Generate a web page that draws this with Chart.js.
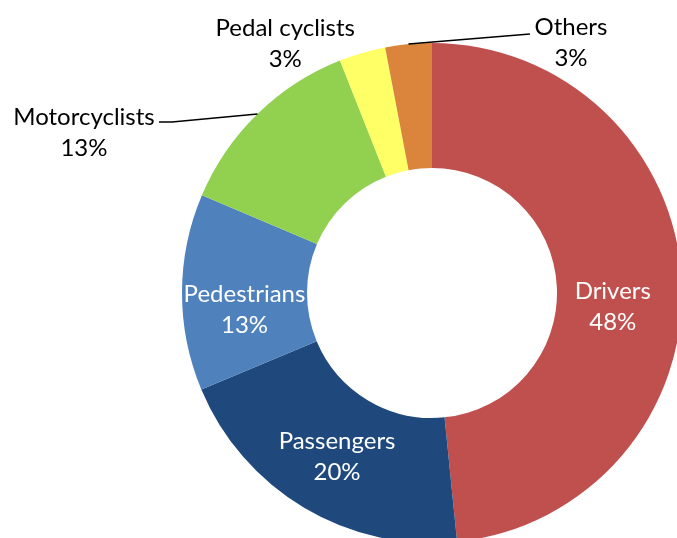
<!DOCTYPE html>
<html>
<head>
<meta charset="utf-8">
<script src="https://cdn.jsdelivr.net/npm/chart.js@4.4.1/dist/chart.umd.min.js"></script>
<style>
  html, body { margin: 0; padding: 0; background: #fff; overflow: hidden; }
  #wrap { position: absolute; left: 0; top: 0; width: 677px; height: 538px; }
</style>
</head>
<body>
<div id="wrap"><canvas id="myChart"></canvas></div>
<script>
// road deaths by type of road user (share, %)
const categories = ['Drivers', 'Passengers', 'Pedestrians', 'Motorcyclists', 'Pedal cyclists', 'Others'];
const shares = [48.4, 20.3, 12.7, 12.6, 3.0, 3.0];
const sliceColours = ['#C0504D', '#1F497D', '#4F81BD', '#92D050', '#FFFF66', '#DA843C'];

// where each label goes, relative to its slice
const labelSpots = [
  { inside: true, dx: -6.5, dy: 22.5 },
  { inside: true, dx: 1, dy: 1.5 },
  { inside: true, dx: 0, dy: 17 },
  { inside: false, dx: -173.5, dy: 18, line: [[-85.5, 8], [-98.5, 8]] },
  { inside: false, dx: -77, dy: -10 },
  { inside: false, dx: 162.5, dy: -2, line: [[121.5, -10]] }
];

const FONT = '24px Lato, "Open Sans", sans-serif';
const LINE_GAP = 31;

const sliceLabels = {
  id: 'sliceLabels',
  afterDatasetsDraw(chart) {
    const ctx = chart.ctx;
    const meta = chart.getDatasetMeta(0);
    const data = chart.data.datasets[0].data;
    const total = data.reduce((a, b) => a + b, 0);
    ctx.save();
    ctx.font = FONT;
    ctx.textAlign = 'center';
    ctx.textBaseline = 'alphabetic';
    meta.data.forEach((arc, i) => {
      const spot = labelSpots[i];
      const p = arc.getProps(['x', 'y', 'startAngle', 'endAngle', 'outerRadius', 'innerRadius'], true);
      const mid = (p.startAngle + p.endAngle) / 2;
      let ax, ay;
      if (spot.inside) {
        const r = (p.innerRadius + p.outerRadius) / 2;
        ax = p.x + Math.cos(mid) * r;
        ay = p.y + Math.sin(mid) * r;
      } else {
        ax = p.x + Math.cos(mid) * p.outerRadius;
        ay = p.y + Math.sin(mid) * p.outerRadius;
      }
      if (spot.line) {
        ctx.beginPath();
        ctx.moveTo(ax, ay);
        spot.line.forEach(pt => ctx.lineTo(ax + pt[0], ay + pt[1]));
        ctx.strokeStyle = '#000';
        ctx.lineWidth = 1.5;
        ctx.stroke();
      }
      const cx = ax + spot.dx;
      const cy = ay + spot.dy;
      const pct = Math.round(data[i] / total * 100) + '%';
      ctx.fillStyle = spot.inside ? '#fff' : '#000';
      ctx.fillText(chart.data.labels[i], cx, cy - LINE_GAP / 2 + 8.5);
      ctx.fillText(pct, cx, cy + LINE_GAP / 2 + 8.5);
    });
    ctx.restore();
  }
};

const ctx = document.getElementById('myChart').getContext('2d');
const myChart = new Chart(ctx, {
  type: 'doughnut',
  data: {
    labels: categories,
    datasets: [{
      data: shares,
      backgroundColor: sliceColours,
      borderWidth: 0,
      hoverOffset: 0,
      clip: false
    }]
  },
  options: {
    responsive: true,
    maintainAspectRatio: false,
    animation: false,
    radius: 250,
    cutout: '50%',
    layout: { padding: { left: 187, top: 48, right: 0, bottom: 0 } },
    plugins: {
      legend: { display: false },
      tooltip: { enabled: false }
    }
  },
  plugins: [sliceLabels]
});
</script>
</body>
</html>
